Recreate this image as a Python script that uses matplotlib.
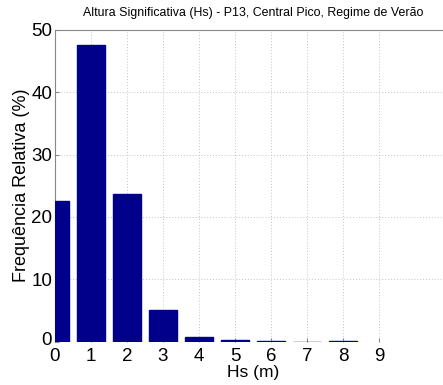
import matplotlib
matplotlib.use("Agg")
import matplotlib.pyplot as plt
import matplotlib.transforms as mtransforms

categories = [0, 1, 2, 3, 4, 5, 6, 7, 8]
values = [22.5, 47.6, 23.6, 5.1, 0.7, 0.25, 0.1, 0.0, 0.1]
xticks = [0, 1, 2, 3, 4, 5, 6, 7, 8, 9]
yticks = [0, 10, 20, 30, 40, 50]

plt.rcParams['font.family'] = ['Liberation Sans', 'DejaVu Sans']

fig = plt.figure(figsize=(4.43, 3.85), dpi=100)
W, H = 443, 385
left, right = 55, 451
top, bottom = 30, 341.5
ax = fig.add_axes([left / W, (H - bottom) / H, (right - left) / W, (bottom - top) / H])

ax.bar(categories, values, width=0.8, color='#00008a', edgecolor='#00008a', zorder=3)
ax.set_xlim(0, 11)
ax.set_ylim(0, 50)
ax.set_xticks(xticks)
ax.set_yticks(yticks)
ax.tick_params(axis='both', direction='in', length=3, color='#888888', labelsize=13.5)
ax.tick_params(axis='x', pad=4.5)
ax.tick_params(axis='y', pad=2)
ax.grid(True, linestyle=(0, (1, 2)), color='#c4c4c4', linewidth=0.7, zorder=0)
for s in ['right', 'bottom']:
    ax.spines[s].set_visible(False)
for s in ['left', 'top']:
    ax.spines[s].set_color('#888888')
    ax.spines[s].set_linewidth(0.8)

# raise the y "0" label slightly as in the reference
ylab0 = ax.get_yticklabels()[0]
ylab0.set_transform(ylab0.get_transform() + mtransforms.ScaledTranslation(0, 2.5 / 72, fig.dpi_scale_trans))

ax.set_xlabel('Hs (m)', fontsize=12.5, labelpad=0)
ax.set_ylabel('Frequência Relativa (%)', fontsize=13, labelpad=1)
fig.text(0.571, 0.966, 'Altura Significativa (Hs) - P13, Central Pico, Regime de Verão',
         ha='center', va='center', fontsize=8.9)

fig.savefig('out.png', dpi=100)
